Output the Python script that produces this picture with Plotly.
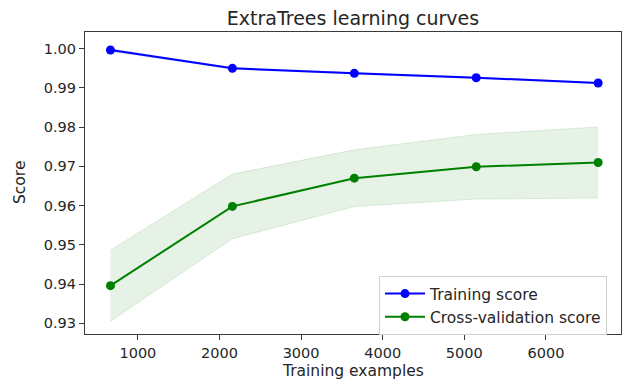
import plotly.graph_objects as go

train_sizes = [664, 2158, 3652, 5146, 6640]
train_mean = [0.99967, 0.99500, 0.99372, 0.99260, 0.99125]
train_std = [0.00030, 0.00020, 0.00020, 0.00020, 0.00020]
cv_mean = [0.93960, 0.95980, 0.96700, 0.96990, 0.97100]
cv_std = [0.00905, 0.00824, 0.00724, 0.00824, 0.00906]

title = "ExtraTrees learning curves"
x_label = "Training examples"
y_label = "Score"
x_ticks = [1000, 2000, 3000, 4000, 5000, 6000]
y_ticks = [0.93, 0.94, 0.95, 0.96, 0.97, 0.98, 0.99, 1.00]

BLUE = "#0000ff"
GREEN = "#008000"
FONT = "DejaVu Sans"
TXT = "#262626"

fig = go.Figure()

def band(mean, std, fill, edge):
    upper = [m + s for m, s in zip(mean, std)]
    lower = [m - s for m, s in zip(mean, std)]
    fig.add_trace(go.Scatter(x=train_sizes, y=upper, mode="lines",
                             line=dict(color=edge, width=1), showlegend=False,
                             hoverinfo="skip"))
    fig.add_trace(go.Scatter(x=train_sizes, y=lower, mode="lines",
                             line=dict(color=edge, width=1), fill="tonexty",
                             fillcolor=fill, showlegend=False, hoverinfo="skip"))

band(train_mean, train_std, "rgba(0,0,255,0.1)", "rgba(0,0,255,0.12)")
band(cv_mean, cv_std, "rgba(0,128,0,0.1)", "rgba(0,128,0,0.12)")

fig.add_trace(go.Scatter(x=train_sizes, y=train_mean, mode="lines+markers",
                         name="Training score",
                         line=dict(color=BLUE, width=2),
                         marker=dict(color=BLUE, size=9)))
fig.add_trace(go.Scatter(x=train_sizes, y=cv_mean, mode="lines+markers",
                         name="Cross-validation score",
                         line=dict(color=GREEN, width=2),
                         marker=dict(color=GREEN, size=9)))

axis_common = dict(showline=True, linecolor="#3a3a3a", linewidth=1.2, mirror=True,
                   ticks="outside", ticklen=5, tickcolor="#3a3a3a", tickwidth=1,
                   showgrid=False, zeroline=False, automargin=False,
                   tickfont=dict(family=FONT, size=14.5, color=TXT))

# plot area in pixels: left 85, right 621, top 32, bottom 334
PW, PH = 536, 302

fig.update_layout(
    width=627, height=381,
    margin=dict(l=85, r=6, t=32, b=47),
    paper_bgcolor="white", plot_bgcolor="white",
    font=dict(family=FONT, size=15, color=TXT),
    title=dict(text=title, x=0.5, xref="paper", y=1 - 18 / 381, yref="container",
               xanchor="center", yanchor="middle",
               font=dict(family=FONT, size=19, color=TXT)),
    xaxis=dict(range=[352, 6920], tickvals=x_ticks,
               ticktext=[str(t) for t in x_ticks], **axis_common),
    yaxis=dict(range=[0.92727, 1.00426], tickvals=y_ticks,
               ticktext=[f"{t:.2f}" for t in y_ticks], **axis_common),
    legend=dict(x=(379 - 85) / PW, y=(334 - 276) / PH, xanchor="left", yanchor="top",
                bgcolor="rgba(255,255,255,0.8)", bordercolor="#d0d0d0", borderwidth=1,
                font=dict(family=FONT, size=15.5, color=TXT),
                traceorder="normal", tracegroupgap=0, itemwidth=40),
    annotations=[
        dict(text=x_label, x=0.5, y=-37 / PH, xref="paper", yref="paper",
             xanchor="center", yanchor="middle", showarrow=False,
             font=dict(family=FONT, size=15.5, color=TXT)),
        dict(text=y_label, x=-65 / PW, y=0.5, xref="paper", yref="paper",
             xanchor="center", yanchor="middle", showarrow=False, textangle=-90,
             font=dict(family=FONT, size=15.5, color=TXT)),
    ],
)

fig.write_html("out.html", config={"displayModeBar": False},
               post_script="document.body.style.margin='0';document.body.style.padding='0';")
